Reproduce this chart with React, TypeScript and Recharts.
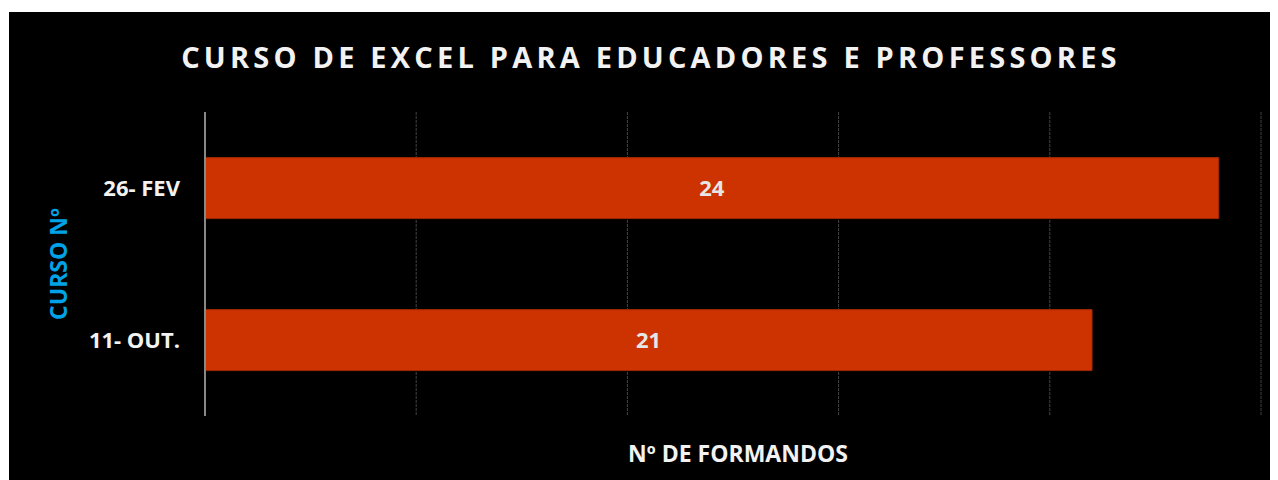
import React from 'react';
import {
  BarChart,
  Bar,
  XAxis,
  YAxis,
  CartesianGrid,
  LabelList,
  Label
} from 'recharts';

const cursos: string[] = ['26- FEV', '11- OUT.'];
const formandos: number[] = [24, 21];
const xTicks: number[] = [0, 5, 10, 15, 20, 25];

const data = cursos.map((curso, i) => ({ curso, formandos: formandos[i] }));

const FONT = '"Open Sans", sans-serif';

const YLabel = (props: any) => {
  const { viewBox } = props;
  const x = viewBox.x + 49;
  const y = viewBox.y + viewBox.height / 2;
  return (
    <text
      x={x}
      y={y}
      transform={`rotate(-90, ${x}, ${y})`}
      textAnchor="middle"
      dominantBaseline="central"
      fill="#00a2e8"
      fontFamily={FONT}
      fontWeight="bold"
      fontSize={23}
    >
      CURSO Nº
    </text>
  );
};

// x ticks are hidden in the reference, only the grid uses them
const NoTick = () => <g />;

const App: React.FC = () => {
  return (
    <div
      style={{
        position: 'relative',
        width: 1270,
        height: 468,
        marginLeft: 1,
        marginTop: 4,
        background: '#000'
      }}
    >
      <div
        style={{
          position: 'absolute',
          top: 26,
          left: 0,
          width: 1284,
          textAlign: 'center',
          color: '#f2f2f2',
          fontFamily: FONT,
          fontWeight: 'bold',
          fontSize: 29,
          letterSpacing: 4.2,
          lineHeight: '38px'
        }}
      >
        CURSO DE EXCEL PARA EDUCADORES E PROFESSORES
      </div>
      <BarChart
        width={1270}
        height={468}
        data={data}
        layout="vertical"
        barCategoryGap="30%"
        margin={{ top: 100, right: 18, left: 0, bottom: 0 }}
      >
        <CartesianGrid
          horizontal={false}
          stroke="#444"
          strokeDasharray="3 1"
        />
        <XAxis
          type="number"
          domain={[0, 25]}
          ticks={xTicks}
          tick={<NoTick />}
          axisLine={false}
          tickLine={false}
          height={64}
        >
          <Label
            value="Nº DE FORMANDOS"
            position="insideBottom"
            offset={18}
            dx={5}
            fill="#f2f2f2"
            fontFamily={FONT}
            fontWeight="bold"
            fontSize={23}
          />
        </XAxis>
        <YAxis
          type="category"
          dataKey="curso"
          width={196}
          axisLine={{ stroke: '#888', strokeWidth: 2 }}
          tickLine={false}
          tickSize={0}
          tickMargin={25}
          tick={{
            fill: '#f2f2f2',
            fontFamily: FONT,
            fontWeight: 'bold',
            fontSize: 22
          }}
        >
          <Label content={<YLabel />} />
        </YAxis>
        <Bar
          dataKey="formandos"
          fill="#cc3300"
          stroke="#a02800"
          strokeWidth={1}
          isAnimationActive={false}
        >
          <LabelList
            dataKey="formandos"
            position="center"
            fill="#e6e6e6"
            fontFamily={FONT}
            fontWeight="bold"
            fontSize={22}
          />
        </Bar>
      </BarChart>
    </div>
  );
};

export default App;
